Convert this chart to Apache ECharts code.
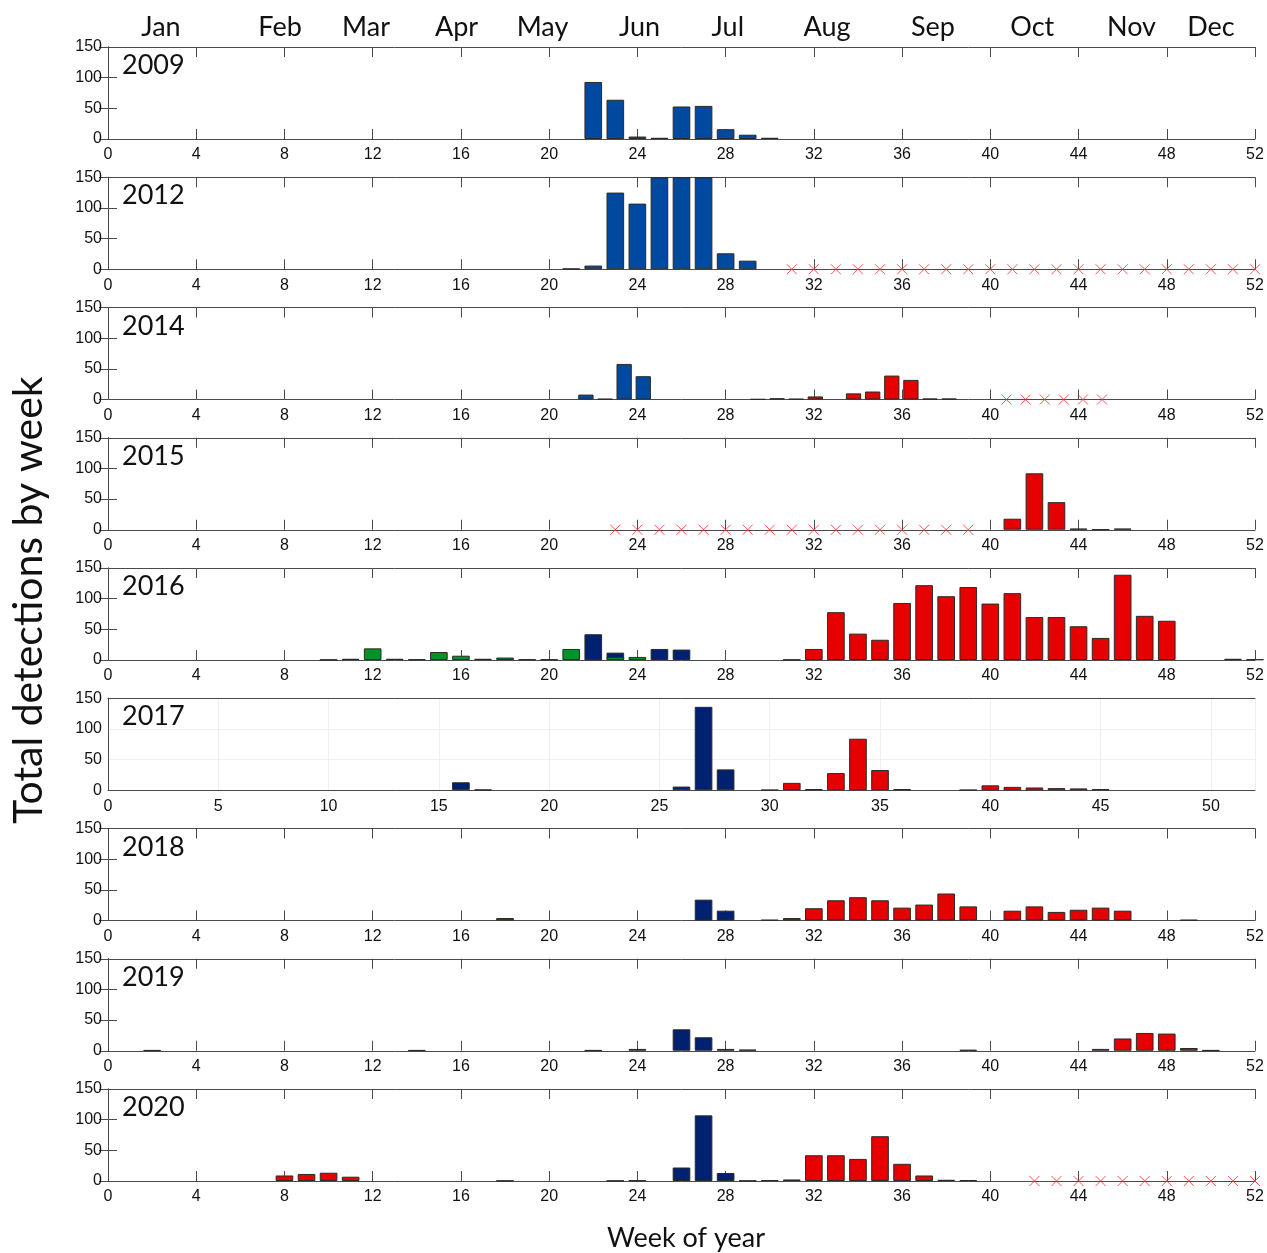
<!DOCTYPE html>
<html>
<head>
<meta charset="utf-8">
<script src="https://cdn.jsdelivr.net/npm/echarts@6/dist/echarts.min.js"></script>
<style>
  html, body { margin: 0; padding: 0; background: #fff; }
  #chart { width: 1267px; height: 1253px; }
</style>
</head>
<body>
<div id="chart"></div>
<script>
// panel years, top to bottom
const years = ['2009', '2012', '2014', '2015', '2016', '2017', '2018', '2019', '2020'];

// month labels along the top, placed at week of year
const monthNames = ['Jan', 'Feb', 'Mar', 'Apr', 'May', 'Jun', 'Jul', 'Aug', 'Sep', 'Oct', 'Nov', 'Dec'];
const monthWeeks = [2.4, 7.8, 11.7, 15.8, 19.7, 24.1, 28.1, 32.6, 37.4, 41.9, 46.4, 50.0];

// [week, detections]
const blue2009 = [[22, 93], [23, 64], [24, 4], [25, 2], [26, 53], [27, 54], [28, 16], [29, 7], [30, 2]];

const blue2012 = [[21, 1], [22, 6], [23, 125], [24, 107], [25, 150], [26, 150], [27, 150], [28, 26], [29, 14]];
const cross2012 = [31, 32, 33, 34, 35, 36, 37, 38, 39, 40, 41, 42, 43, 44, 45, 46, 47, 48, 49, 50, 51, 52];

// 2014 is binned on a 60 step scale in the original
const blue2014 = [[25, 8], [26, 1], [27, 58], [28, 38], [34, 0.5], [35, 2]];
const red2014 = [[36, 1], [37, 5], [39, 10], [40, 13], [41, 39], [42, 32], [43, 1.5], [44, 1.5]];
const cross2014 = [47, 48, 49, 50, 51, 52];

const red2015 = [[41, 18], [42, 92], [43, 45], [44, 2], [45, 0.5], [46, 2]];
const cross2015 = [23, 24, 25, 26, 27, 28, 29, 30, 31, 32, 33, 34, 35, 36, 37, 38, 39];

const green2016 = [[10, 0.5], [11, 2], [12, 19], [13, 2], [14, 1], [15, 13], [16, 7], [17, 2], [18, 4], [19, 1], [20, 1], [21, 18], [22, 1], [23, 5], [24, 5]];
const blue2016 = [[22, 42], [23, 12], [25, 18], [26, 17]];
const red2016 = [[31, 0.5], [32, 18], [33, 78], [34, 43], [35, 33], [36, 93], [37, 122], [38, 104], [39, 119], [40, 92], [41, 109], [42, 70], [43, 70], [44, 55], [45, 36], [46, 139], [47, 72], [48, 64], [51, 2], [52, 1]];

const blue2017 = [[16, 13], [17, 1], [26, 6], [27, 136], [28, 34], [30, 0.5]];
const red2017 = [[31, 12], [32, 2], [33, 28], [34, 84], [35, 33], [36, 2], [39, 0.5], [40, 8], [41, 5.5], [42, 4.5], [43, 3.5], [44, 3], [45, 2]];

const blue2018 = [[27, 34], [28, 16], [30, 1]];
const red2018 = [[18, 4], [31, 4], [32, 20], [33, 33], [34, 38], [35, 33], [36, 21], [37, 26], [38, 44], [39, 23], [41, 16], [42, 23], [43, 14], [44, 17.5], [45, 21], [46, 16], [49, 1]];

const blue2019 = [[2, 1], [14, 1], [22, 1], [24, 3], [26, 35], [27, 22], [28, 3], [29, 2], [39, 1.5]];
const red2019 = [[45, 3], [46, 20], [47, 29], [48, 28], [49, 4.5], [50, 1]];

const blue2020 = [[18, 0.5], [23, 0.5], [24, 1], [26, 22], [27, 107], [28, 13], [29, 0.5], [30, 1.5]];
const red2020 = [[8, 9], [9, 11.5], [10, 13.5], [11, 7], [31, 2.5], [32, 42], [33, 42], [34, 36], [35, 73], [36, 28], [37, 9], [38, 2], [39, 1.5]];
const cross2020 = [42, 43, 44, 45, 46, 47, 48, 49, 50, 51, 52];

const panels = [
  { blue: blue2009 },
  { blue: blue2012, cross: cross2012 },
  { blue: blue2014, red: red2014, cross: cross2014, bins: 60 },
  { red: red2015, cross: cross2015 },
  { blue: blue2016, red: red2016, green: green2016 },
  { blue: blue2017, red: red2017, step: 5 },
  { blue: blue2018, red: red2018 },
  { blue: blue2019, red: red2019 },
  { blue: blue2020, red: red2020, cross: cross2020 }
];

const LEFT = 108, RIGHT = 12, H = 92, TOP0 = 47, GAP = 130.25;
const plotW = 1267 - LEFT - RIGHT;
const lightBlue = '#0049a0', navy = '#00216f', red = '#e60000', green = '#009326';
const axisColor = '#4a4a4a';
const tickFont = 'Liberation Sans, Arial, sans-serif';
const textFont = 'Lato, Open Sans, sans-serif';

const grid = [], xAxis = [], yAxis = [], series = [], title = [];

panels.forEach((p, i) => {
  const top = TOP0 + i * GAP;
  const plain = p.step === 5;
  grid.push({ left: LEFT, right: RIGHT, top: top, height: H, containLabel: false });
  title.push({
    text: years[i], left: LEFT + 9, top: top,
    textStyle: { fontFamily: textFont, fontWeight: 'normal', fontSize: 27, color: '#111' }
  });

  const xBase = {
    gridIndex: i, type: 'value', min: 0, max: 52, interval: p.step || 4,
    axisLine: { show: true, onZero: false, lineStyle: { color: axisColor, width: 1 } },
    axisTick: { show: !plain, inside: true, length: 10, lineStyle: { color: axisColor } },
    splitLine: { show: false }
  };
  const xb = xAxis.length;
  xAxis.push(Object.assign({}, xBase, {
    position: 'bottom',
    splitLine: { show: plain, lineStyle: { color: '#efefef' } },
    axisLabel: { fontFamily: tickFont, fontSize: 16, color: '#111', margin: 8, showMaxLabel: !plain }
  }));
  xAxis.push(Object.assign({}, xBase, { position: 'top', axisLabel: { show: false } }));
  let xBar = xb;
  if (p.bins) {
    xBar = xAxis.length;
    xAxis.push({ gridIndex: i, type: 'value', min: 0, max: p.bins, show: false });
  }

  const yBase = {
    gridIndex: i, type: 'value', min: 0, max: 150, interval: 50,
    axisLine: { show: true, lineStyle: { color: axisColor, width: 1 } },
    axisTick: { show: !plain, inside: true, length: 9, lineStyle: { color: axisColor } },
    splitLine: { show: false }
  };
  const yl = yAxis.length;
  yAxis.push(Object.assign({}, yBase, {
    position: 'left',
    splitLine: { show: plain, lineStyle: { color: '#efefef' } },
    axisLabel: { fontFamily: tickFont, fontSize: 16, color: '#111', margin: 6 }
  }));
  yAxis.push(Object.assign({}, yBase, { position: 'right', axisLabel: { show: false } }));

  const span = p.bins || 52;
  const bw = plotW / span * 0.8;
  const barOf = (data, color) => ({
    type: 'bar', xAxisIndex: xBar, yAxisIndex: yl, data: data,
    barWidth: bw, barGap: '-100%', clip: true,
    itemStyle: { color: color, borderColor: '#2a2a2a', borderWidth: 1 },
    emphasis: { disabled: true }, z: 2
  });
  const blueColor = i < 3 ? lightBlue : navy;
  if (p.blue) series.push(barOf(p.blue, blueColor));
  if (p.red) series.push(barOf(p.red, red));
  if (p.green) series.push(barOf(p.green, green));
  if (p.cross) {
    series.push({
      type: 'scatter', xAxisIndex: xBar, yAxisIndex: yl,
      data: p.cross.map(w => [w, 0]),
      symbol: 'path://M0,0L10,10M10,0L0,10', symbolSize: 10, clip: false,
      itemStyle: { color: 'none', borderColor: '#ff2b2b', borderWidth: 1 },
      emphasis: { disabled: true }, z: 4
    });
  }
});

// month names above the first panel
xAxis.push({
  gridIndex: 0, type: 'value', min: 0, max: 52, position: 'top',
  axisLine: { show: false }, axisTick: { show: false }, splitLine: { show: false },
  axisLabel: {
    customValues: monthWeeks,
    formatter: v => monthNames[monthWeeks.indexOf(v)],
    fontFamily: textFont, fontSize: 27, color: '#111', margin: 6
  }
});

const chart = echarts.init(document.getElementById('chart'), null, { renderer: 'canvas' });
chart.setOption({
  backgroundColor: '#fff',
  animation: false,
  title: title,
  grid: grid,
  xAxis: xAxis,
  yAxis: yAxis,
  series: series,
  graphic: [
    {
      type: 'text', x: 29, y: 600, rotation: Math.PI / 2,
      style: { text: 'Total detections by week', fontFamily: textFont, fontSize: 41, fill: '#111', align: 'center', verticalAlign: 'middle' }
    },
    {
      type: 'text', x: 686, y: 1238,
      style: { text: 'Week of year', fontFamily: textFont, fontSize: 27, fill: '#111', align: 'center', verticalAlign: 'middle' }
    }
  ]
});
</script>
</body>
</html>
